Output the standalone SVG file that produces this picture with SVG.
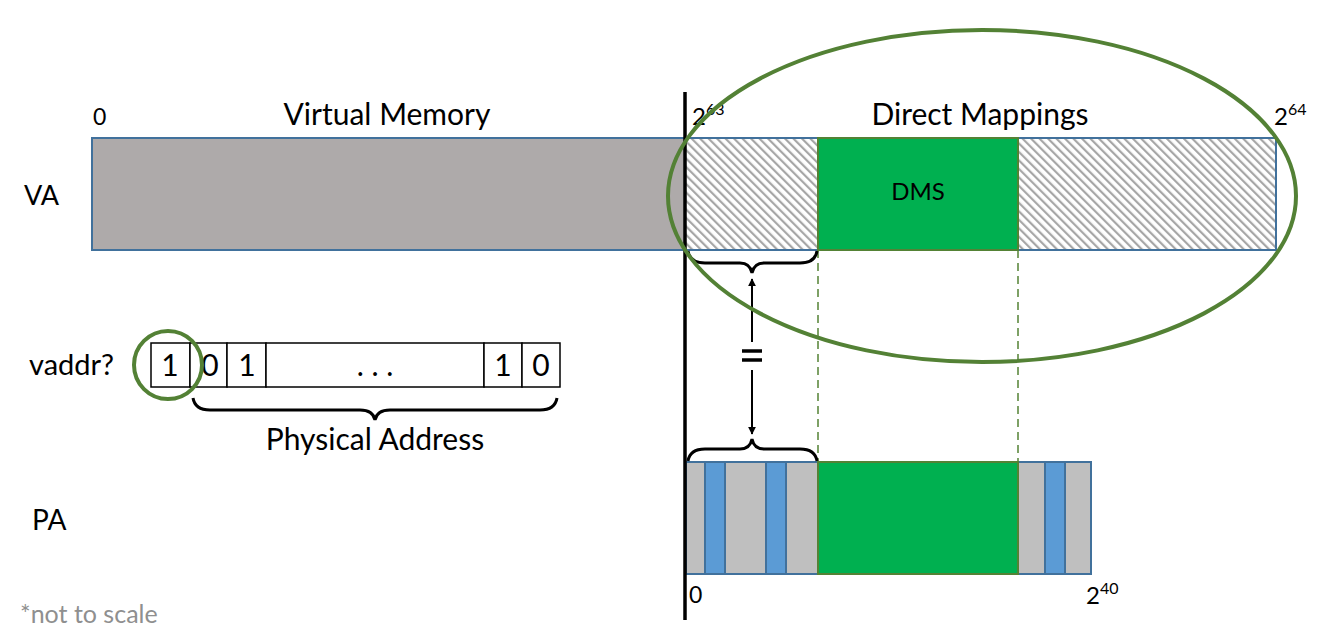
<svg xmlns="http://www.w3.org/2000/svg" width="1320" height="637" viewBox="0 0 1320 637">
<defs>
<style>
text{font-family:Lato,"Open Sans","Liberation Sans",sans-serif;fill:#000}
.lbl{font-size:30px}
.sm{font-size:23px}
.cell{font-size:30px;text-anchor:middle}
.seg{stroke:#41719C;stroke-width:2}
.brace{fill:none;stroke:#000;stroke-width:3}
.dash{stroke:#548235;stroke-width:1.5;stroke-dasharray:8 5}
</style>
<pattern id="hatch" patternUnits="userSpaceOnUse" width="6" height="6" patternTransform="rotate(-45)">
<rect width="6" height="6" fill="#fff"/>
<rect x="0" y="0" width="2.2" height="6" fill="#A6A6A6"/>
</pattern>
<marker id="arr" viewBox="0 0 10 10" refX="9" refY="5" markerWidth="4" markerHeight="4" orient="auto">
<path d="M0,0 L10,5 L0,10 z" fill="#000"/>
</marker>
</defs>
<rect width="1320" height="637" fill="#fff"/>

<g id="labels">
<text x="24" y="205" font-size="27">VA</text>
<text x="32" y="530" font-size="28">PA</text>
<text x="29" y="375" font-size="29">vaddr?</text>
<text x="93" y="125" class="sm">0</text>
<text x="387" y="125" class="lbl" text-anchor="middle">Virtual Memory</text>
<text x="980" y="125" class="lbl" text-anchor="middle">Direct Mappings</text>
<text x="692" y="125" font-size="24">2<tspan font-size="16" dy="-10">63</tspan></text>
<text x="1274" y="125" font-size="24">2<tspan font-size="16" dy="-10">64</tspan></text>
<text x="689" y="603" class="sm">0</text>
<text x="1086" y="604" font-size="24">2<tspan font-size="16" dy="-10">40</tspan></text>
<text x="20" y="623" font-size="25" style="fill:#8F8F8F">*not to scale</text>
</g>

<g id="va-bar">
<rect x="92" y="138" width="593" height="112" fill="#AEAAAA" class="seg"/>
<rect x="685" y="138" width="133" height="112" fill="url(#hatch)" class="seg"/>
<rect x="1018" y="138" width="258" height="112" fill="url(#hatch)" class="seg"/>
<rect x="818" y="138" width="200" height="112" fill="#00B050" stroke="#548235" stroke-width="2"/>
<text x="918" y="200" font-size="24" text-anchor="middle">DMS</text>
</g>

<g id="pa-bar">
<rect x="686" y="462" width="19" height="112" fill="#BFBFBF" class="seg"/>
<rect x="705" y="462" width="20" height="112" fill="#5B9BD5" class="seg"/>
<rect x="725" y="462" width="41" height="112" fill="#BFBFBF" class="seg"/>
<rect x="766" y="462" width="20" height="112" fill="#5B9BD5" class="seg"/>
<rect x="786" y="462" width="32" height="112" fill="#BFBFBF" class="seg"/>
<rect x="1018" y="462" width="27" height="112" fill="#BFBFBF" class="seg"/>
<rect x="1045" y="462" width="20" height="112" fill="#5B9BD5" class="seg"/>
<rect x="1065" y="462" width="26" height="112" fill="#BFBFBF" class="seg"/>
<rect x="818" y="462" width="200" height="112" fill="#00B050" stroke="#548235" stroke-width="2"/>
</g>

<g id="vaddr">
<rect x="151" y="343" width="39" height="44" fill="#fff" stroke="#000" stroke-width="1.5"/>
<rect x="190" y="343" width="37" height="44" fill="#fff" stroke="#000" stroke-width="1.5"/>
<rect x="227" y="343" width="39" height="44" fill="#fff" stroke="#000" stroke-width="1.5"/>
<rect x="266" y="343" width="218" height="44" fill="#fff" stroke="#000" stroke-width="1.5"/>
<rect x="484" y="343" width="38" height="44" fill="#fff" stroke="#000" stroke-width="1.5"/>
<rect x="522" y="343" width="38" height="44" fill="#fff" stroke="#000" stroke-width="1.5"/>
<text x="170" y="376" class="cell">1</text>
<text x="210" y="376" class="cell">0</text>
<text x="247" y="376" class="cell">1</text>
<text x="375" y="376" class="cell">. . .</text>
<text x="503" y="376" class="cell">1</text>
<text x="541" y="376" class="cell">0</text>
<circle cx="168" cy="365" r="34" fill="none" stroke="#538135" stroke-width="4"/>
<path class="brace" d="M193,398 Q195,410 210,410 L360,410 Q373,410 375,420 Q377,410 390,410 L540,410 Q555,410 557,398"/>
<text x="375" y="450" font-size="30" text-anchor="middle">Physical Address</text>
</g>

<g id="connectors">
<line x1="818" y1="250" x2="818" y2="462" class="dash"/>
<line x1="1018" y1="250" x2="1018" y2="462" class="dash"/>
<path class="brace" d="M688,251 Q690,263 705,263 L740,263 Q750,263 752,273 Q754,263 764,263 L800,263 Q815,263 817,251"/>
<path class="brace" d="M688,461 Q690,449 705,449 L740,449 Q750,449 752,439 Q754,449 764,449 L800,449 Q815,449 817,461"/>
<line x1="752" y1="342" x2="752" y2="279" stroke="#000" stroke-width="2" marker-end="url(#arr)"/>
<line x1="752" y1="370" x2="752" y2="434" stroke="#000" stroke-width="2" marker-end="url(#arr)"/>
<line x1="742" y1="351" x2="762" y2="351" stroke="#000" stroke-width="3.5"/>
<line x1="742" y1="360" x2="762" y2="360" stroke="#000" stroke-width="3.5"/>
<line x1="685" y1="92" x2="685" y2="620" stroke="#000" stroke-width="3.5"/>
<ellipse cx="982" cy="196" rx="314" ry="166" fill="none" stroke="#538135" stroke-width="4"/>
</g>
</svg>
